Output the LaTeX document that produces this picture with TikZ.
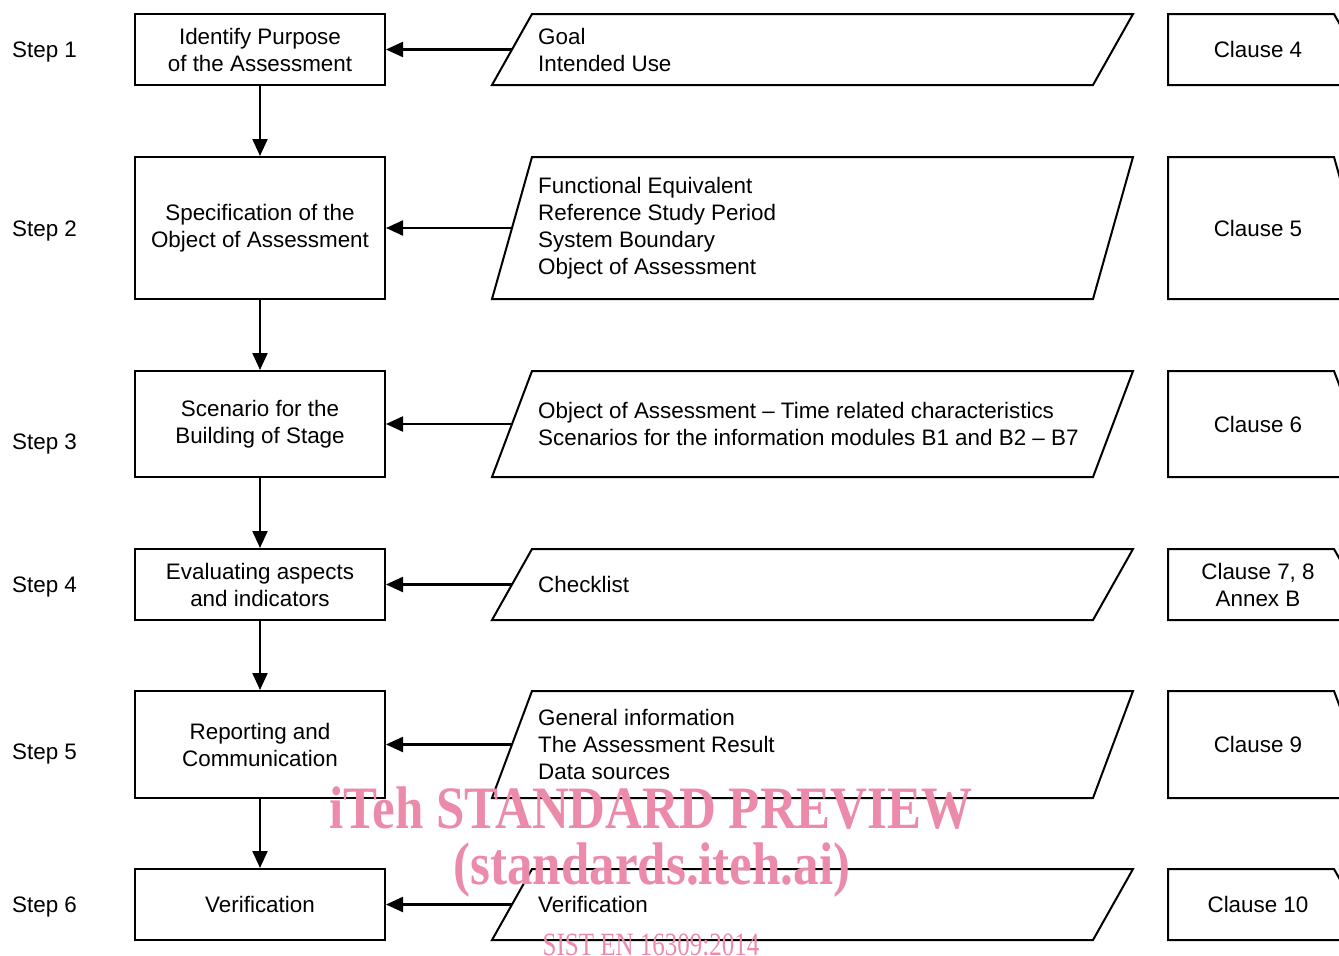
\documentclass[tikz,border=0pt]{standalone}
\usepackage{fontspec}
\setmainfont{Liberation Sans}
\newfontfamily\wmfont{Liberation Serif}
\usetikzlibrary{arrows.meta}
\definecolor{wmpink}{RGB}{236,138,170}
\newcommand\myPara[5]{% name, top, bottom, mid, text
  \draw[shape line] (492,#3) -- (532,#2) -- (1133,#2) -- (1093,#3) -- cycle;
  \coordinate (#1-in) at (512,#4);
  \node[ptext] (#1) at (538,#4) {#5};
}
\newcommand\myClause[5]{% name, top, bottom, mid, text
  \draw[shape line] (1168,#3) -- (1168,#2) -- (1334,#2) -- (1374,#3) -- cycle;
  \node[ctext] (#1) at (1258,#4) {#5};
}
\tikzset{
  shape line/.style={line width=2pt, line join=miter},
  base/.style={font=\fontsize{22.4}{27}\selectfont, inner sep=0pt},
  stepbox/.style={base, draw, line width=2pt, minimum width=250pt, align=center},
  ptext/.style={base, anchor=west, align=left},
  ctext/.style={base, align=center},
  steplabel/.style={base, anchor=base west},
  arr/.style={line width=2.2pt, -{Triangle[length=17pt,width=15pt]}},
  wm/.style={text=wmpink, inner sep=0pt}
}
\begin{document}
\begin{tikzpicture}[x=1pt,y=-1pt]
\useasboundingbox (0,0) rectangle (1339,956);
\clip (0,0) rectangle (1339,956);
% step labels
\node[steplabel] (s1) at (12,57) {Step 1};
\node[steplabel] (s2) at (12,236) {Step 2};
\node[steplabel] (s3) at (12,449) {Step 3};
\node[steplabel] (s4) at (12,592) {Step 4};
\node[steplabel] (s5) at (12,759) {Step 5};
\node[steplabel] (s6) at (12,912) {Step 6};
% left boxes
\node[stepbox, minimum height=71pt] (b1) at (260,49.5) {Identify Purpose\\of the Assessment};
\node[stepbox, minimum height=142pt] (b2) at (260,228) {Specification of the\\Object of Assessment};
\node[stepbox, minimum height=106pt] (b3) at (260,424) {Scenario for the\\Building of Stage};
\node[stepbox, minimum height=71pt] (b4) at (260,584.5) {Evaluating aspects\\and indicators};
\node[stepbox, minimum height=107pt] (b5) at (260,744.5) {Reporting and\\Communication};
\node[stepbox, minimum height=71pt] (b6) at (260,904.5) {Verification};
% parallelograms
\myPara{p1}{14}{85}{49.5}{Goal\\Intended Use}
\myPara{p2}{157}{299}{228}{Functional Equivalent\\Reference Study Period\\System Boundary\\Object of Assessment}
\myPara{p3}{371}{477}{424}{Object of Assessment -- Time related characteristics\\Scenarios for the information modules B1 and B2 -- B7}
\myPara{p4}{549}{620}{584.5}{Checklist}
\myPara{p5}{691}{798}{744.5}{General information\\The Assessment Result\\Data sources}
\myPara{p6}{869}{940}{904.5}{Verification}
% clause boxes
\myClause{c1}{14}{85}{49.5}{Clause 4}
\myClause{c2}{157}{299}{228}{Clause 5}
\myClause{c3}{371}{477}{424}{Clause 6}
\myClause{c4}{549}{620}{584.5}{Clause 7, 8\\Annex B}
\myClause{c5}{691}{798}{744.5}{Clause 9}
\myClause{c6}{869}{940}{904.5}{Clause 10}
% vertical arrows
\draw[arr] (b1) -- (b2);
\draw[arr] (b2) -- (b3);
\draw[arr] (b3) -- (b4);
\draw[arr] (b4) -- (b5);
\draw[arr] (b5) -- (b6);
% horizontal arrows
\draw[arr] (p1-in) -- (b1.east);
\draw[arr] (p2-in) -- (b2.east);
\draw[arr] (p3-in) -- (b3.east);
\draw[arr] (p4-in) -- (b4.east);
\draw[arr] (p5-in) -- (b5.east);
\draw[arr] (p6-in) -- (b6.east);
% watermark
\node[wm] (w1) at (651,808) {\scalebox{1}[1.18]{\wmfont\bfseries\fontsize{51}{51}\selectfont iTeh STANDARD PREVIEW}};
\node[wm] (w2) at (652,870) {\scalebox{1}[1.18]{\wmfont\bfseries\fontsize{51}{51}\selectfont (standards.iteh.ai)}};
\node[wm, anchor=base] (w3) at (651,955) {\scalebox{1}[1.3]{\wmfont\fontsize{25}{25}\selectfont SIST EN 16309:2014}};
\end{tikzpicture}
\end{document}
